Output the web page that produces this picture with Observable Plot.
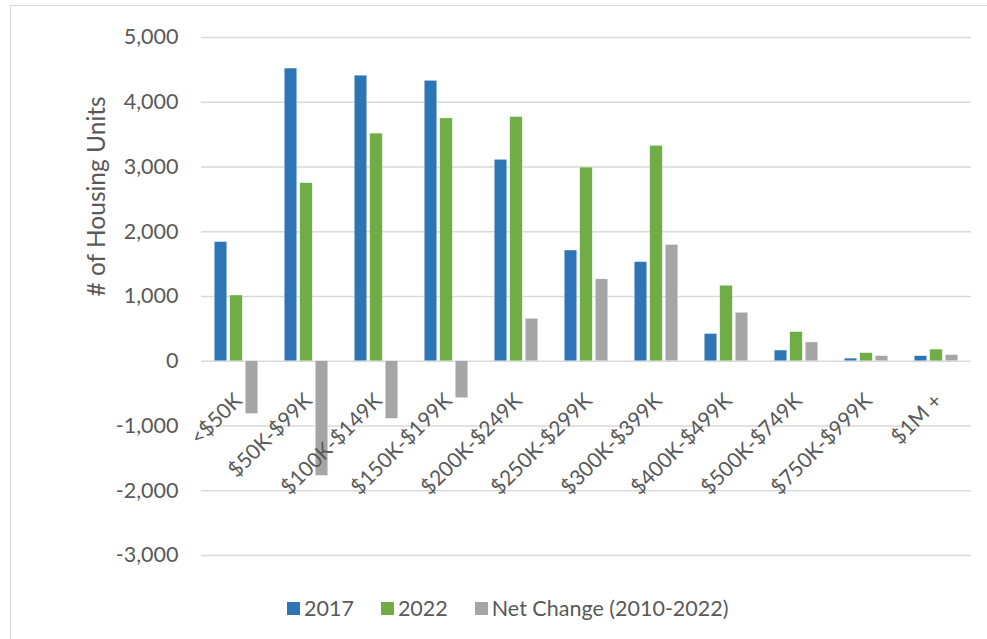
<!DOCTYPE html>
<html><head><meta charset="utf-8">
<script src="https://cdn.jsdelivr.net/npm/d3@7"></script>
<script src="https://cdn.jsdelivr.net/npm/@observablehq/plot@0.6"></script>
<style>
body{margin:0;background:#fff;}
#wrap{position:relative;width:987px;height:639px;overflow:hidden;font-family:Lato,sans-serif;}
#frame{position:absolute;left:10px;top:5px;width:1100px;height:800px;border:1px solid #d9d9d9;}
#chart{position:absolute;left:0;top:0;}
#legend{position:absolute;left:287px;top:596px;display:flex;align-items:center;font-size:21.5px;color:#595959;line-height:24px;white-space:nowrap;}
.item{display:flex;align-items:center;margin-right:27px;}
.sw{width:13px;height:13px;margin-right:4px;}
</style></head><body>
<div id="wrap"><div id="frame"></div><div id="chart"></div><div id="legend"></div></div>
<script>
const categories = ["<$50K","$50K-$99K","$100K-$149K","$150K-$199K","$200K-$249K","$250K-$299K","$300K-$399K","$400K-$499K","$500K-$749K","$750K-$999K","$1M +"];
const series = ["2017","2022","Net Change (2010-2022)"];
const colors = ["#2e75b6","#70ad47","#a5a5a5"];
const units2017 = [1840, 4520, 4410, 4330, 3110, 1710, 1530, 420, 165, 40, 78];
const units2022 = [1015, 2750, 3515, 3750, 3770, 2990, 3325, 1165, 450, 125, 180];
const netChange = [-815, -1770, -890, -570, 655, 1265, 1795, 748, 290, 78, 93];
const yTicks = [-3000, -2000, -1000, 0, 1000, 2000, 3000, 4000, 5000];
const yLabel = "# of Housing Units";

const valueLists = [units2017, units2022, netChange];
const offsets = [-15.5, 0, 15.5];
const rows = categories.map((c, i) => ({category: c, v: valueLists.map(l => l[i])}));

const barMarks = series.map((s, k) => Plot.barY(rows, {
  x: "category", y: d => d.v[k], fill: colors[k],
  stroke: "#ffffff", strokeWidth: 0.5, strokeOpacity: 0.6,
  insetLeft: 28.75, insetRight: 28.75, dx: offsets[k]
}));

const chart = Plot.plot({
  width: 987, height: 580,
  marginLeft: 201, marginRight: 16, marginTop: 37, marginBottom: 25,
  style: {fontFamily: "Lato, sans-serif", fontSize: "21.5px", color: "#595959", background: "transparent", overflow: "visible"},
  x: {type: "band", domain: categories, padding: 0, axis: null},
  y: {domain: [-3000, 5000], axis: null},
  marks: [
    Plot.ruleY(yTicks, {stroke: "#d9d9d9", strokeWidth: 1.6}),
    ...barMarks,
    Plot.axisY(yTicks, {tickSize: 0, tickPadding: 23, tickFormat: d => d.toLocaleString("en-US"), fontSize: 21.5, label: null}),
    Plot.text(categories, {x: d => d, y: () => 0, rotate: -45, textAnchor: "end", dx: 2, dy: 36, fontSize: 21, fill: "#595959"}),
    Plot.text([yLabel], {frameAnchor: "left", rotate: -90, dx: -104, fontSize: 24.5, fill: "#595959"})
  ]
});
document.getElementById("chart").appendChild(chart);

const legend = document.getElementById("legend");
series.forEach((s, k) => {
  const item = document.createElement("div");
  item.className = "item";
  const sw = document.createElement("div");
  sw.className = "sw";
  sw.style.background = colors[k];
  const t = document.createElement("span");
  t.textContent = s;
  item.appendChild(sw); item.appendChild(t);
  legend.appendChild(item);
});
</script>
</body></html>
